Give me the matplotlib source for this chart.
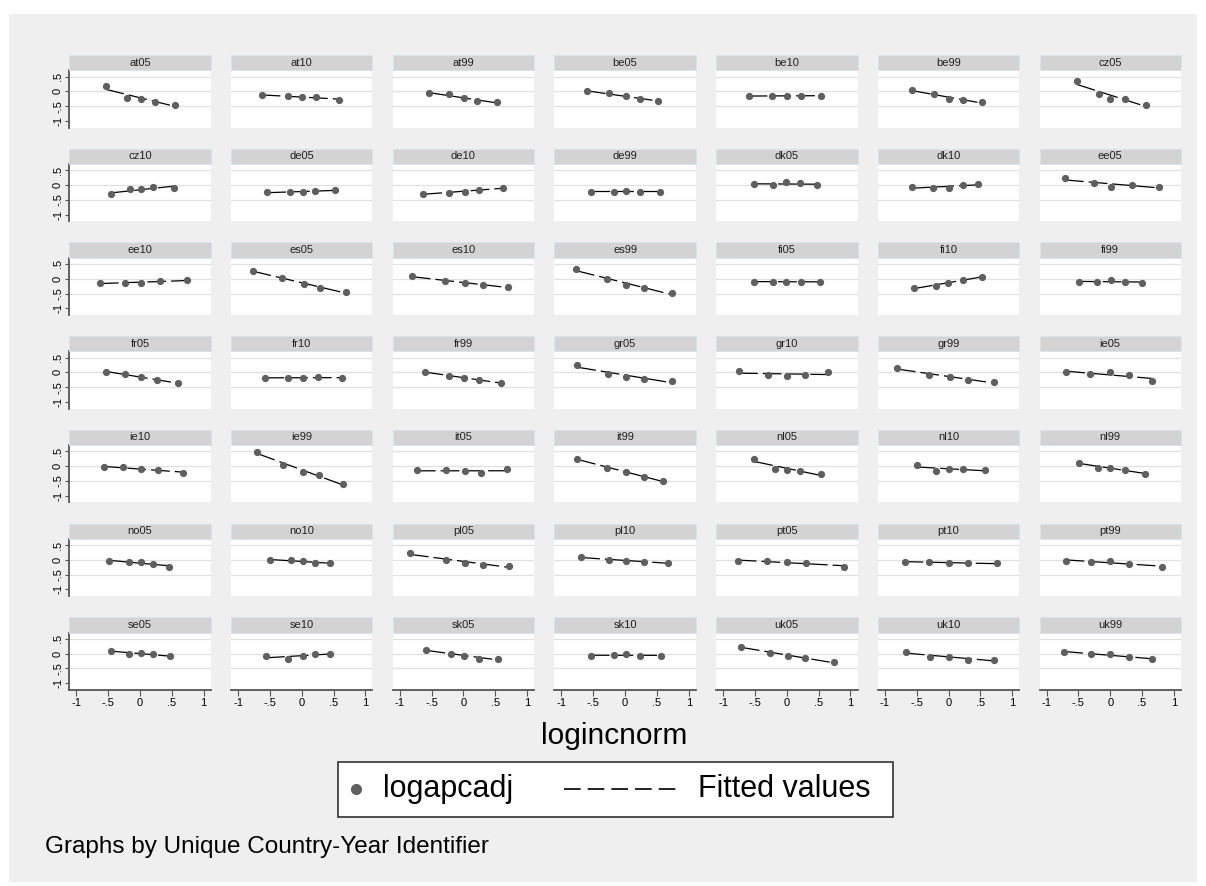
import numpy as np
import matplotlib
matplotlib.use("Agg")
import matplotlib.pyplot as plt
from matplotlib.patches import Rectangle
from matplotlib.lines import Line2D

# ---------------- data (logincnorm = x, logapcadj = y) ----------------
panel_ids = ["at05", "at10", "at99", "be05", "be10", "be99", "cz05",
             "cz10", "de05", "de10", "de99", "dk05", "dk10", "ee05",
             "ee10", "es05", "es10", "es99", "fi05", "fi10", "fi99",
             "fr05", "fr10", "fr99", "gr05", "gr10", "gr99", "ie05",
             "ie10", "ie99", "it05", "it99", "nl05", "nl10", "nl99",
             "no05", "no10", "pl05", "pl10", "pt05", "pt10", "pt99",
             "se05", "se10", "sk05", "sk10", "uk05", "uk10", "uk99"]

at05_x = [-0.54, -0.20, 0.01, 0.23, 0.55]
at05_y = [0.17, -0.23, -0.26, -0.35, -0.45]
at10_x = [-0.63, -0.22, 0.01, 0.23, 0.58]
at10_y = [-0.13, -0.17, -0.19, -0.20, -0.28]
at99_x = [-0.54, -0.22, 0.01, 0.22, 0.52]
at99_y = [-0.07, -0.09, -0.23, -0.34, -0.37]
be05_x = [-0.60, -0.26, 0.01, 0.23, 0.51]
be05_y = [0.00, -0.07, -0.16, -0.25, -0.33]
be10_x = [-0.60, -0.23, 0.00, 0.23, 0.53]
be10_y = [-0.16, -0.16, -0.15, -0.15, -0.15]
be99_x = [-0.57, -0.23, 0.01, 0.22, 0.53]
be99_y = [0.03, -0.08, -0.25, -0.30, -0.37]
cz05_x = [-0.52, -0.18, 0.00, 0.23, 0.56]
cz05_y = [0.34, -0.08, -0.26, -0.25, -0.45]

cz10_x = [-0.46, -0.15, 0.02, 0.21, 0.54]
cz10_y = [-0.32, -0.15, -0.15, -0.06, -0.09]
de05_x = [-0.54, -0.19, 0.02, 0.21, 0.53]
de05_y = [-0.25, -0.25, -0.22, -0.20, -0.18]
de10_x = [-0.63, -0.23, 0.02, 0.25, 0.62]
de10_y = [-0.30, -0.26, -0.22, -0.17, -0.10]
de99_x = [-0.53, -0.17, 0.02, 0.23, 0.55]
de99_y = [-0.22, -0.22, -0.19, -0.22, -0.22]
dk05_x = [-0.51, -0.21, -0.02, 0.20, 0.47]
dk05_y = [0.03, 0.00, 0.09, 0.06, -0.01]
dk10_x = [-0.58, -0.24, 0.00, 0.22, 0.46]
dk10_y = [-0.06, -0.11, -0.11, 0.01, 0.03]
ee05_x = [-0.71, -0.26, 0.01, 0.35, 0.77]
ee05_y = [0.23, 0.07, -0.06, 0.00, -0.06]

ee10_x = [-0.63, -0.23, 0.01, 0.32, 0.74]
ee10_y = [-0.15, -0.13, -0.15, -0.09, -0.05]
es05_x = [-0.77, -0.31, 0.04, 0.29, 0.69]
es05_y = [0.27, 0.02, -0.17, -0.31, -0.46]
es10_x = [-0.81, -0.29, 0.03, 0.31, 0.70]
es10_y = [0.10, -0.09, -0.15, -0.22, -0.27]
es99_x = [-0.77, -0.29, 0.01, 0.30, 0.73]
es99_y = [0.32, 0.00, -0.21, -0.33, -0.48]
fi05_x = [-0.51, -0.21, -0.02, 0.22, 0.52]
fi05_y = [-0.10, -0.10, -0.10, -0.10, -0.11]
fi10_x = [-0.54, -0.20, -0.01, 0.22, 0.52]
fi10_y = [-0.30, -0.25, -0.16, -0.03, 0.07]
fi99_x = [-0.49, -0.20, 0.01, 0.23, 0.50]
fi99_y = [-0.11, -0.11, -0.05, -0.10, -0.14]

fr05_x = [-0.54, -0.23, 0.02, 0.27, 0.60]
fr05_y = [0.02, -0.06, -0.15, -0.26, -0.37]
fr10_x = [-0.57, -0.21, 0.02, 0.25, 0.64]
fr10_y = [-0.19, -0.19, -0.18, -0.14, -0.20]
fr99_x = [-0.61, -0.23, 0.01, 0.25, 0.59]
fr99_y = [0.03, -0.12, -0.20, -0.25, -0.35]
gr05_x = [-0.75, -0.27, 0.01, 0.30, 0.74]
gr05_y = [0.24, -0.05, -0.14, -0.21, -0.30]
gr10_x = [-0.75, -0.29, 0.00, 0.28, 0.65]
gr10_y = [0.05, -0.10, -0.11, -0.09, 0.00]
gr99_x = [-0.81, -0.30, 0.02, 0.31, 0.72]
gr99_y = [0.15, -0.08, -0.16, -0.25, -0.33]
ie05_x = [-0.69, -0.31, 0.00, 0.30, 0.66]
ie05_y = [0.00, -0.05, 0.00, -0.09, -0.28]

ie10_x = [-0.57, -0.26, 0.02, 0.29, 0.67]
ie10_y = [-0.04, -0.04, -0.09, -0.12, -0.23]
ie99_x = [-0.70, -0.30, 0.02, 0.27, 0.65]
ie99_y = [0.49, 0.05, -0.20, -0.31, -0.61]
it05_x = [-0.73, -0.27, 0.02, 0.27, 0.68]
it05_y = [-0.14, -0.14, -0.18, -0.23, -0.10]
it99_x = [-0.75, -0.29, 0.01, 0.30, 0.60]
it99_y = [0.25, -0.05, -0.21, -0.37, -0.50]
nl05_x = [-0.51, -0.19, 0.00, 0.21, 0.53]
nl05_y = [0.25, -0.09, -0.12, -0.17, -0.26]
nl10_x = [-0.50, -0.20, 0.00, 0.22, 0.57]
nl10_y = [0.05, -0.18, -0.09, -0.11, -0.13]
nl99_x = [-0.49, -0.19, 0.00, 0.23, 0.55]
nl99_y = [0.11, -0.05, -0.06, -0.12, -0.26]

no05_x = [-0.49, -0.18, 0.02, 0.20, 0.45]
no05_y = [-0.04, -0.08, -0.06, -0.15, -0.23]
no10_x = [-0.50, -0.17, 0.02, 0.21, 0.44]
no10_y = [0.00, -0.02, -0.04, -0.11, -0.11]
pl05_x = [-0.84, -0.28, 0.03, 0.31, 0.72]
pl05_y = [0.24, -0.02, -0.11, -0.16, -0.20]
pl10_x = [-0.69, -0.25, 0.01, 0.29, 0.67]
pl10_y = [0.09, 0.01, -0.04, -0.07, -0.10]
pt05_x = [-0.77, -0.31, 0.00, 0.30, 0.90]
pt05_y = [-0.04, -0.05, -0.07, -0.11, -0.23]
pt10_x = [-0.69, -0.30, 0.01, 0.31, 0.76]
pt10_y = [-0.06, -0.07, -0.11, -0.12, -0.12]
pt99_x = [-0.70, -0.30, 0.00, 0.29, 0.81]
pt99_y = [-0.03, -0.07, -0.03, -0.15, -0.24]

se05_x = [-0.46, -0.17, 0.02, 0.21, 0.47]
se05_y = [0.09, -0.01, 0.02, -0.03, -0.10]
se10_x = [-0.56, -0.21, 0.02, 0.21, 0.45]
se10_y = [-0.09, -0.19, -0.09, 0.00, -0.01]
sk05_x = [-0.58, -0.19, 0.01, 0.25, 0.54]
sk05_y = [0.13, -0.03, -0.07, -0.17, -0.18]
sk10_x = [-0.54, -0.18, 0.01, 0.24, 0.56]
sk10_y = [-0.07, -0.06, -0.03, -0.07, -0.07]
uk05_x = [-0.72, -0.27, 0.02, 0.29, 0.74]
uk05_y = [0.23, 0.03, -0.07, -0.16, -0.30]
uk10_x = [-0.67, -0.29, 0.00, 0.31, 0.71]
uk10_y = [0.06, -0.11, -0.11, -0.21, -0.21]
uk99_x = [-0.72, -0.30, -0.01, 0.29, 0.66]
uk99_y = [0.06, -0.02, -0.03, -0.11, -0.19]

x_ticks = [-1, -0.5, 0, 0.5, 1]
x_ticklabels = ["-1", "-.5", "0", ".5", "1"]
y_ticks = [-1, -0.5, 0, 0.5]
y_ticklabels = ["-1", "-.5", "0", ".5"]

# ---------------- figure ----------------
plt.rcParams['font.family'] = ['Liberation Sans', 'DejaVu Sans']
W, H = 1206, 886
fig = plt.figure(figsize=(W / 100, H / 100), dpi=100)
fig.patch.set_facecolor('white')


def fx(px):
    return px / W


def fy(py):
    return 1 - py / H


fig.add_artist(Rectangle((fx(9), fy(882)), (1197 - 9) / W, (882 - 14) / H,
                         transform=fig.transFigure, facecolor='#efefef',
                         edgecolor='none', zorder=-10))

NCOL = 7
col_left0, col_step, col_w = 69.3, 161.7, 141.4
row_top0, row_step, plot_h, head_h = 70.3, 93.7, 57.4, 15.3
marker_col = '#5f5f5f'
axis_col = '#555555'

for i, pid in enumerate(panel_ids):
    r, c = divmod(i, NCOL)
    left = col_left0 + col_step * c
    top = row_top0 + row_step * r
    ax = fig.add_axes([fx(left), fy(top + plot_h), col_w / W, plot_h / H])
    ax.set_facecolor('white')
    ax.set_xlim(-1.11, 1.11)
    ax.set_ylim(-1.23, 0.71)
    for yv in (0.5, 0.0, -0.5):
        ax.axhline(yv, color='#e0e0e0', lw=0.9, zorder=0)
    for s in ax.spines.values():
        s.set_visible(False)

    xv = np.array(globals()[pid + "_x"])
    yv_ = np.array(globals()[pid + "_y"])
    coef = np.polyfit(xv, yv_, 1)
    xs = np.array([xv.min(), xv.max()])
    ax.plot(xs, np.polyval(coef, xs), color='black', lw=0.9,
            linestyle=(0, (15, 4)), zorder=2)
    ax.plot(xv, yv_, 'o', color=marker_col, ms=4.2, mec=marker_col, zorder=3)

    if c == 0:
        ax.spines['left'].set_visible(True)
        ax.spines['left'].set_color(axis_col)
        ax.spines['left'].set_linewidth(1.3)
        ax.set_yticks(y_ticks)
        ax.set_yticklabels(y_ticklabels, rotation=90, va='center', fontsize=8)
        ax.tick_params(axis='y', length=3, width=0.8, color=axis_col, pad=1.5)
    else:
        ax.set_yticks([])
    if r == 6:
        ax.spines['bottom'].set_visible(True)
        ax.spines['bottom'].set_color(axis_col)
        ax.spines['bottom'].set_linewidth(1.3)
        ax.set_xticks(x_ticks)
        ax.set_xticklabels(x_ticklabels, fontsize=8)
        ax.tick_params(axis='x', length=4, width=0.8, color=axis_col, pad=2)
    else:
        ax.set_xticks([])

    # header strip
    fig.add_artist(Rectangle((fx(left), fy(top)), col_w / W, head_h / H,
                             transform=fig.transFigure, facecolor='#d3d3d3',
                             edgecolor='#d9e3ea', lw=0.8, zorder=1))
    fig.text(fx(left + col_w / 2), fy(top - head_h / 2), pid, fontsize=8,
             ha='center', va='center', color='#222222')

# x title
fig.text(fx(614), fy(736), "logincnorm", fontsize=21.5, ha='center', va='center')

# legend (drawn manually)
fig.add_artist(Rectangle((fx(338), fy(817)), (893 - 338) / W, (817 - 762) / H,
                         transform=fig.transFigure, facecolor='white',
                         edgecolor='#222222', lw=1.1, zorder=5))
fig.add_artist(Line2D([fx(356)], [fy(789)], marker='o', ms=7, color=marker_col,
                      transform=fig.transFigure, zorder=6))
fig.text(fx(383), fy(789), "logapcadj", fontsize=22, ha='left', va='center', zorder=6)
fig.add_artist(Line2D([fx(564), fx(677)], [fy(789), fy(789)], color='black', lw=1.2,
                      linestyle=(0, (10, 4.2)), transform=fig.transFigure, zorder=6))
fig.text(fx(698), fy(789), "Fitted values", fontsize=22, ha='left', va='center', zorder=6)

# note
fig.text(fx(45), fy(847), "Graphs by Unique Country-Year Identifier", fontsize=17.5,
         ha='left', va='center')

fig.savefig("out.png", dpi=100, facecolor=fig.get_facecolor())
